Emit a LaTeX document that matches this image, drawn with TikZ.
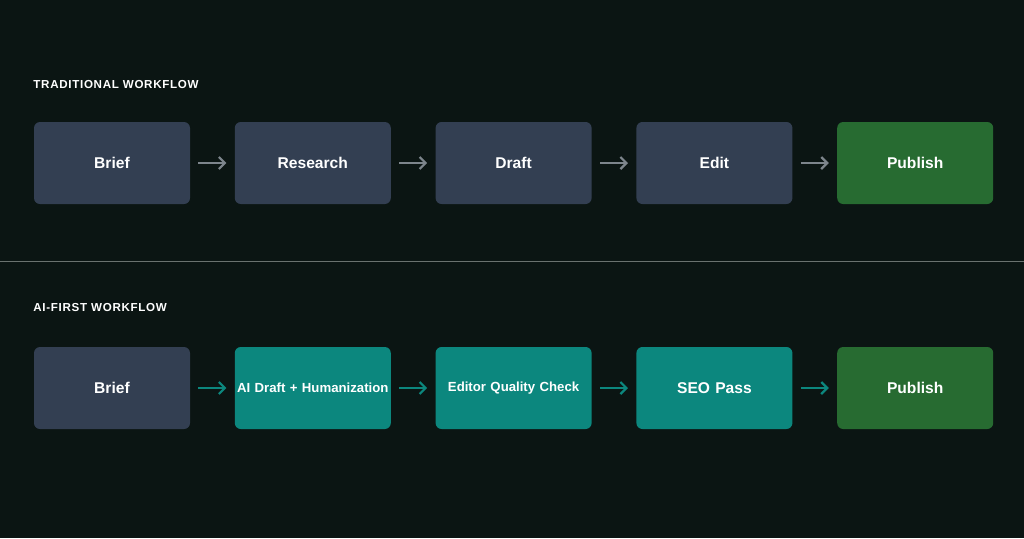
\documentclass[tikz,border=0pt]{standalone}
\usepackage{fontspec}
\setmainfont{Liberation Sans}
\usetikzlibrary{positioning,arrows.meta}
\definecolor{bgdark}{HTML}{0B1513}
\definecolor{slate}{HTML}{333F52}
\definecolor{pubgreen}{HTML}{276B31}
\definecolor{aiteal}{HTML}{0C877E}
\definecolor{arrgray}{HTML}{7D858C}
\definecolor{divider}{HTML}{6A726F}
\tikzset{
  stage/.style={minimum width=78pt, text width=76pt, align=center, minimum height=41pt, rounded corners=3pt, text=white, font=\bfseries\fontsize{7.8}{9}\selectfont, inner sep=1pt},
  old/.style={stage, fill=slate},
  ai/.style={stage, fill=aiteal},
  pub/.style={stage, fill=pubgreen},
  tight/.style={font=\bfseries\fontsize{6.6}{8}\selectfont},
  flow/.style={-{Straight Barb[length=3pt]}, line width=1.1pt},
  heading/.style={anchor=west, text=white, font=\bfseries\fontsize{5.8}{7}\addfontfeature{LetterSpace=6}\selectfont, inner sep=0pt}
}
\begin{document}
\begin{tikzpicture}[x=0.5pt, y=-0.5pt, node distance=22pt]
  \fill[bgdark] (0,0) rectangle (1024,538);
  \useasboundingbox (0,0) rectangle (1024,538);

  \node[heading] (tradlabel) at (33,84) {TRADITIONAL WORKFLOW};
  \node[old] (brief) at (112,163) {Brief};
  \node[old, right=of brief] (research) {Research};
  \node[old, right=of research] (draft) {Draft};
  \node[old, right=of draft] (edit) {Edit};
  \node[pub, right=of edit] (publish) {Publish};

  \foreach \a/\b in {brief/research, research/draft, draft/edit, edit/publish}
    \draw[flow, arrgray] ([xshift=4pt]\a.east) -- ([xshift=-4pt]\b.west);

  \draw[divider, line width=0.4pt] (0,261) -- (1024,261);

  \node[heading] (ailabel) at (33,307) {AI-FIRST WORKFLOW};
  \node[old] (aibrief) at (112,388) {Brief};
  \node[ai, tight, right=of aibrief] (aidraft) {AI Draft + Humanization};
  \node[ai, tight, right=of aidraft] (qcheck) {Editor Quality Check};
  \node[ai, right=of qcheck] (seo) {SEO Pass};
  \node[pub, right=of seo] (aipublish) {Publish};

  \foreach \a/\b in {aibrief/aidraft, aidraft/qcheck, qcheck/seo, seo/aipublish}
    \draw[flow, aiteal] ([xshift=4pt]\a.east) -- ([xshift=-4pt]\b.west);
\end{tikzpicture}
\end{document}
